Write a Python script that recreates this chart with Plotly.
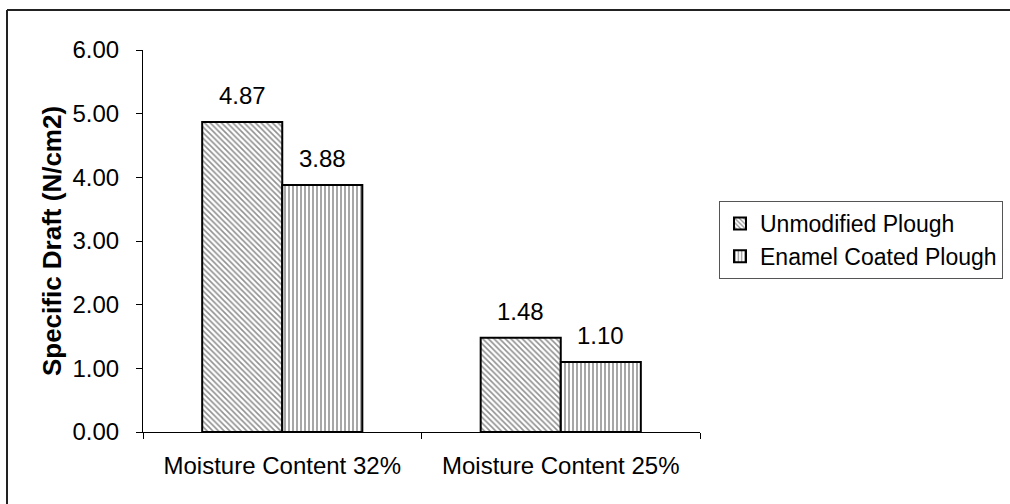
import plotly.graph_objects as go

# Specific draft of two ploughs at two soil moisture levels
categories = ["Moisture Content 32%", "Moisture Content 25%"]
unmodified = [4.87, 1.48]
enamel = [3.88, 1.10]
series_names = ["Unmodified Plough", "Enamel Coated Plough"]
y_ticks = [0, 1, 2, 3, 4, 5, 6]

FONT = "Liberation Sans, Arial, sans-serif"
W, H = 1010, 504
L, R, T, B = 143, 310, 50, 72
plot_w = W - L - R
plot_h = H - T - B
BARGAP = 0.425


def px_x(px):
    return (px - L) / plot_w


def px_y(py):
    return (T + plot_h - py) / plot_h


fig = go.Figure()
fig.add_trace(go.Bar(
    name=series_names[0], x=categories, y=unmodified,
    marker=dict(color="white", line=dict(color="black", width=2),
                pattern=dict(shape="\\", size=4, solidity=0.4,
                             fgcolor="#222222", bgcolor="white")),
))
fig.add_trace(go.Bar(
    name=series_names[1], x=categories, y=enamel,
    marker=dict(color="white", line=dict(color="black", width=2),
                pattern=dict(shape="|", size=4, solidity=0.4,
                             fgcolor="#222222", bgcolor="white")),
))

# value labels above each bar, offset to the bar's slot in the group
bar_px = plot_w / len(categories) * (1 - BARGAP) / 2
for values, shift in ((unmodified, -bar_px / 2), (enamel, bar_px / 2)):
    for cat, v in zip(categories, values):
        fig.add_annotation(x=cat, y=v, text=f"{v:.2f}", showarrow=False,
                           xshift=shift, yshift=11, yanchor="bottom",
                           font=dict(family=FONT, size=24, color="black"))

# chart frame (top and left edges; the rest runs past the page)
frame = dict(color="#222222", width=2)
fig.add_shape(type="line", xref="paper", yref="paper",
              x0=px_x(7), x1=px_x(W + 5), y0=px_y(10), y1=px_y(10), line=frame)
fig.add_shape(type="line", xref="paper", yref="paper",
              x0=px_x(7), x1=px_x(7), y0=px_y(10), y1=px_y(H + 5), line=frame)

fig.update_layout(
    width=W, height=H,
    margin=dict(l=L, r=R, t=T, b=B, autoexpand=False),
    paper_bgcolor="white", plot_bgcolor="white",
    barmode="group", bargap=BARGAP, bargroupgap=0,
    font=dict(family=FONT, size=24, color="black"),
    showlegend=True,
    legend=dict(x=px_x(719), xanchor="left",
                y=px_y(201), yanchor="top",
                bordercolor="#555555", borderwidth=1, bgcolor="white",
                font=dict(family=FONT, size=23, color="black"),
                tracegroupgap=0),
    xaxis=dict(showline=True, linecolor="black", linewidth=1,
               ticks="outside", ticklen=6, tickcolor="black",
               tickson="boundaries", showgrid=False, ticklabelstandoff=12,
               automargin=False, tickfont=dict(family=FONT, size=24)),
    yaxis=dict(range=[0, 6], tickvals=y_ticks, tickformat=".2f",
               showline=True, linecolor="black", linewidth=1,
               ticks="outside", ticklen=6, tickcolor="black",
               showgrid=False, zeroline=False, ticklabelstandoff=12,
               automargin=False, tickfont=dict(family=FONT, size=24),
               title=dict(text="<b>Specific Draft (N/cm2)</b>", standoff=3,
                          font=dict(family=FONT, size=26))),
)

fig.write_html("out.html")
